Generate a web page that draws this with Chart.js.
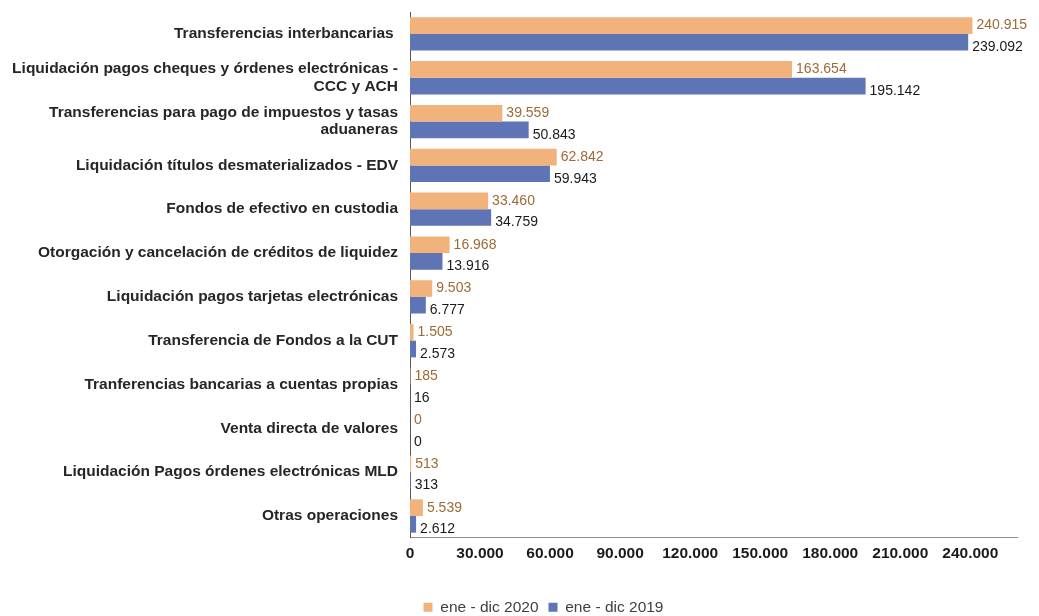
<!DOCTYPE html>
<html>
<head>
<meta charset="utf-8">
<script src="https://cdn.jsdelivr.net/npm/chart.js@4"></script>
<style>
  html, body { margin: 0; padding: 0; background: #ffffff; }
  #wrap { width: 1039px; height: 616px; }
</style>
</head>
<body>
<div id="wrap"><canvas id="opsChart" width="1039" height="616"></canvas></div>
<script>
// Data
const categories = [
    'Transferencias interbancarias ',
    ['Liquidación pagos cheques y órdenes electrónicas -', 'CCC y ACH'],
    ['Transferencias para pago de impuestos y tasas', 'aduaneras'],
    'Liquidación títulos desmaterializados - EDV',
    'Fondos de efectivo en custodia',
    'Otorgación y cancelación de créditos de liquidez',
    'Liquidación pagos tarjetas electrónicas',
    'Transferencia de Fondos a la CUT',
    'Tranferencias bancarias a cuentas propias',
    'Venta directa de valores',
    'Liquidación Pagos órdenes electrónicas MLD',
    'Otras operaciones'
];
const values2020 = [240915, 163654, 39559, 62842, 33460, 16968, 9503, 1505, 185, 0, 513, 5539];
const values2019 = [239092, 195142, 50843, 59943, 34759, 13916, 6777, 2573, 16, 0, 313, 2612];
const seriesNames = ['ene - dic 2020', 'ene - dic 2019'];
const xTickValues = [0, 30000, 60000, 90000, 120000, 150000, 180000, 210000, 240000];

const colors = {
    orange: '#F1B27B',
    blue: '#5E74B4',
    orangeText: '#9C6B36',
    blueText: '#1a1a1a'
};

const fontFamily = '"Liberation Sans", Arial, sans-serif';

// thousands with dot separator
const fmt = (v) => String(v).replace(/\B(?=(\d{3})+(?!\d))/g, '.');

// value labels at the end of each bar
const valueLabels = {
    id: 'valueLabels',
    afterDatasetsDraw(chart) {
        const ctx = chart.ctx;
        ctx.save();
        ctx.font = '14px ' + fontFamily;
        ctx.textAlign = 'left';
        ctx.textBaseline = 'middle';
        chart.data.datasets.forEach((ds, i) => {
            const meta = chart.getDatasetMeta(i);
            ctx.fillStyle = i === 0 ? colors.orangeText : colors.blueText;
            meta.data.forEach((bar, j) => {
                const dy = i === 0 ? 0 : 5;
                ctx.fillText(fmt(ds.data[j]), bar.x + 4, bar.y + dy);
            });
        });
        ctx.restore();
    }
};

// legend in the reference sits a bit right of the page centre
const shiftLegend = {
    id: 'shiftLegend',
    afterLayout(chart) {
        chart.legend.left += 32;
        chart.legend.right += 32;
    }
};

const createOpsChart = () => {
    const ctx = document.getElementById('opsChart').getContext('2d');
    return new Chart(ctx, {
        type: 'bar',
        data: {
            labels: categories,
            datasets: [{
                label: seriesNames[0],
                data: values2020,
                backgroundColor: colors.orange
            }, {
                label: seriesNames[1],
                data: values2019,
                backgroundColor: colors.blue
            }]
        },
        options: {
            indexAxis: 'y',
            responsive: false,
            animation: false,
            datasets: {
                bar: { categoryPercentage: 0.76, barPercentage: 1.0 }
            },
            layout: { padding: { top: 12, right: 22, left: 6, bottom: -9 } },
            plugins: {
                legend: {
                    position: 'bottom',
                    labels: {
                        boxWidth: 9,
                        boxHeight: 9,
                        padding: 10,
                        color: '#404040',
                        font: { family: fontFamily, size: 15.5 }
                    }
                },
                tooltip: { enabled: false }
            },
            scales: {
                x: {
                    min: 0,
                    max: 260000,
                    afterBuildTicks: (scale) => {
                        scale.ticks = xTickValues.map(v => ({ value: v }));
                    },
                    afterFit: (scale) => { scale.height += 19; },
                    grid: { display: false, drawTicks: false },
                    border: { display: true, color: '#8c8c8c', width: 1 },
                    ticks: {
                        color: '#1a1a1a',
                        padding: 7,
                        maxRotation: 0,
                        font: { family: fontFamily, size: 15.5, weight: 'bold' },
                        callback: (v) => fmt(v)
                    }
                },
                y: {
                    afterFit: (scale) => {
                        scale.width = 404;
                        scale.paddingTop = 0;
                        scale.paddingBottom = 0;
                    },
                    grid: { display: false, drawTicks: false },
                    border: { display: true, color: '#595959', width: 1 },
                    ticks: {
                        color: '#262626',
                        padding: 12,
                        font: { family: fontFamily, size: 15.5, weight: 'bold', lineHeight: 1.1 }
                    }
                }
            }
        },
        plugins: [valueLabels, shiftLegend]
    });
};

document.addEventListener('DOMContentLoaded', () => {
    const opsChart = createOpsChart();
});
</script>
</body>
</html>
